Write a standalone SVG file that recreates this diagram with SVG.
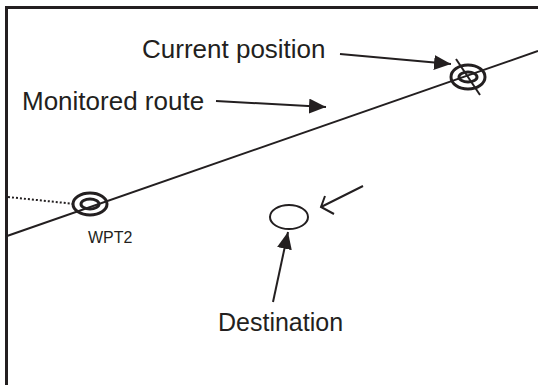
<svg xmlns="http://www.w3.org/2000/svg" width="538" height="385" viewBox="0 0 538 385">
<style>
.ln{stroke:#231f20;stroke-width:2;fill:none}
.ring{stroke:#231f20;stroke-width:3;fill:none}
.t{font-family:"Liberation Sans",Arial,sans-serif;fill:#231f20}
</style>
<defs>
<marker id="ah" viewBox="0 0 10 10" refX="10" refY="5" markerWidth="17" markerHeight="15" preserveAspectRatio="none" markerUnits="userSpaceOnUse" orient="auto">
<path d="M0,0 L10,5 L0,10 z" fill="#231f20"/>
</marker>
</defs>
<rect width="538" height="385" fill="#fff"/>
<path d="M6.5,385 V7.5 H538" stroke="#231f20" stroke-width="3" fill="none"/>
<g id="route">
<line class="ln" x1="7" y1="236" x2="538" y2="51"/>
<line x1="8" y1="197" x2="75" y2="204" stroke="#231f20" stroke-width="2" stroke-dasharray="2,2"/>
</g>
<g id="current">
<ellipse class="ring" cx="468" cy="77" rx="17" ry="12"/>
<ellipse class="ring" cx="468" cy="77" rx="9" ry="5"/>
<line class="ln" x1="456" y1="59" x2="480" y2="95" stroke-width="1.5"/>
</g>
<g id="wpt2">
<ellipse class="ring" cx="90" cy="204" rx="17" ry="11"/>
<ellipse class="ring" cx="90" cy="204" rx="9" ry="5"/>
<text class="t" x="88" y="243" font-size="16">WPT2</text>
</g>
<g id="destination">
<ellipse class="ln" cx="289" cy="217" rx="19" ry="12" stroke-width="2.5"/>
<text class="t" x="218" y="331" font-size="25">Destination</text>
</g>
<g id="labels">
<text class="t" x="142" y="58" font-size="26">Current position</text>
<text class="t" x="22" y="110" font-size="26">Monitored route</text>
</g>
<g id="connectors">
<line class="ln" x1="340" y1="54" x2="451" y2="64" marker-end="url(#ah)"/>
<line class="ln" x1="216" y1="101" x2="326" y2="107" marker-end="url(#ah)"/>
<line class="ln" x1="273" y1="302" x2="288" y2="232" marker-end="url(#ah)"/>
<line class="ln" x1="363" y1="186" x2="321" y2="207"/>
<polyline class="ln" points="325,196 321,207 334,214"/>
</g>
</svg>
